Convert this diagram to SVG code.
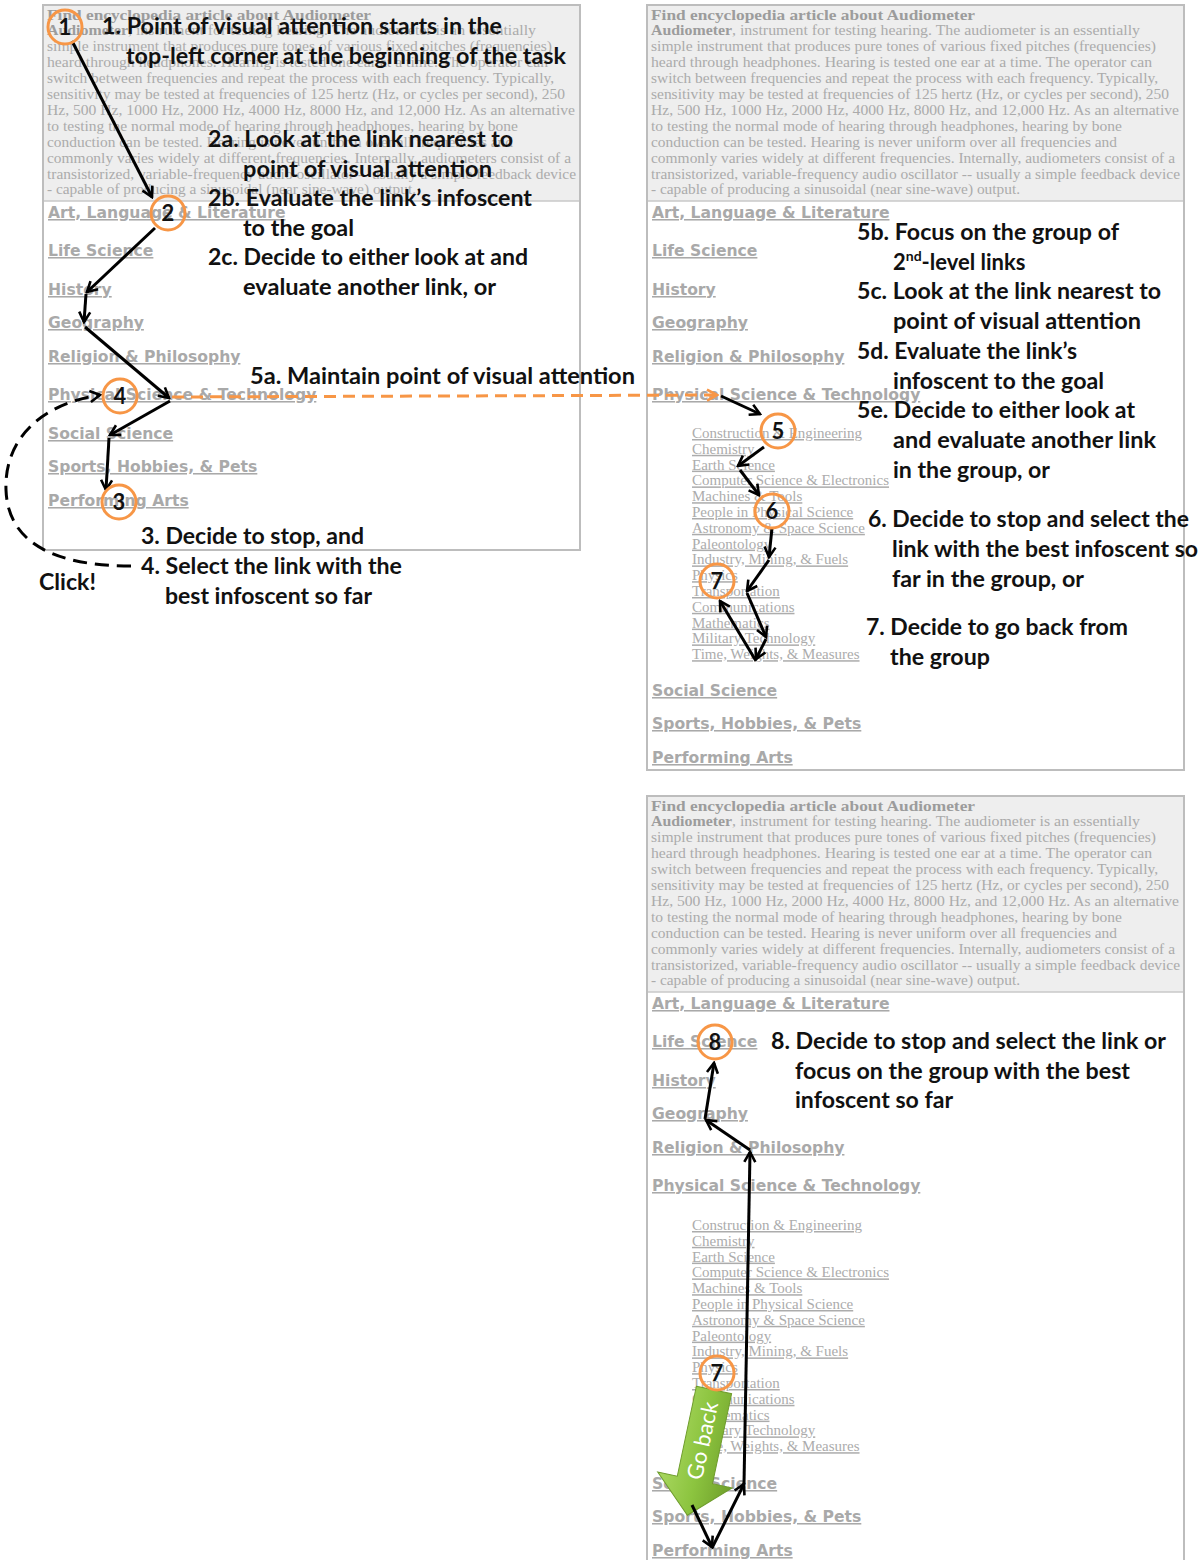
<svg xmlns="http://www.w3.org/2000/svg" width="1204" height="1560" viewBox="0 0 1204 1560">
<defs>
<style>
.panel{fill:#fff;stroke:#bdbdbd;stroke-width:2}
.hdr{fill:#eeeeee}
.sep{stroke:#c8c8c8;stroke-width:1.5}
.body{font-family:"Liberation Serif",serif;font-size:14px;fill:#ababab}
.ttl{font-weight:bold;fill:#9c9c9c}
.lk{font-family:"DejaVu Sans",sans-serif;font-weight:bold;font-size:15.6px;fill:#a9a9a9;text-decoration:underline}
.sl{font-family:"Liberation Serif",serif;font-size:15px;fill:#acacac;text-decoration:underline}
.ann{font-family:Lato,"Liberation Sans",sans-serif;font-weight:bold;font-size:22px;fill:#111}
.num{font-family:Lato,"Liberation Sans",sans-serif;font-weight:bold;font-size:22px;fill:#111;text-anchor:middle}
.circ{fill:none;stroke:#f79646;stroke-width:3}
.arr{fill:none;stroke:#000;stroke-width:3;marker-end:url(#ah)}
.dash{fill:none;stroke:#000;stroke-width:3;stroke-dasharray:14 8;marker-end:url(#ah)}
.odash{fill:none;stroke:#f79646;stroke-width:3;stroke-dasharray:12 7;marker-end:url(#aho)}
</style>
<marker id="ah" viewBox="0 0 14 14" refX="12" refY="7" markerWidth="14" markerHeight="14" markerUnits="userSpaceOnUse" orient="auto">
<path d="M2,1.5 L12,7 L2,12.5" fill="none" stroke="#000" stroke-width="2.6"/>
</marker>
<marker id="aho" viewBox="0 0 14 14" refX="12" refY="7" markerWidth="14" markerHeight="14" markerUnits="userSpaceOnUse" orient="auto">
<path d="M2,1.5 L12,7 L2,12.5" fill="none" stroke="#f79646" stroke-width="2.6"/>
</marker>
<linearGradient id="gb" x1="0" y1="0" x2="1" y2="0">
<stop offset="0" stop-color="#a9d760"/>
<stop offset="0.5" stop-color="#8cc43f"/>
<stop offset="1" stop-color="#6f9f2b"/>
</linearGradient>
</defs>
<rect width="1204" height="1560" fill="#fff"/>

<!-- LEFT PANEL -->
<g id="panel-left">
<rect class="panel" x="43" y="5" width="537" height="545"/>
<rect class="hdr" x="44" y="6" width="535" height="195"/>
<line class="sep" x1="44" y1="201" x2="579" y2="201"/>
<g class="body">
<text x="47" y="19.5" class="ttl" textLength="324" lengthAdjust="spacingAndGlyphs">Find encyclopedia article about Audiometer</text>
<text x="47" y="35.4" textLength="489" lengthAdjust="spacingAndGlyphs"><tspan class="ttl">Audiometer</tspan>, instrument for testing hearing. The audiometer is an essentially</text>
<text x="47" y="51.3" textLength="505" lengthAdjust="spacingAndGlyphs">simple instrument that produces pure tones of various fixed pitches (frequencies)</text>
<text x="47" y="67.2" textLength="501" lengthAdjust="spacingAndGlyphs">heard through headphones. Hearing is tested one ear at a time. The operator can</text>
<text x="47" y="83.1" textLength="507" lengthAdjust="spacingAndGlyphs">switch between frequencies and repeat the process with each frequency. Typically,</text>
<text x="47" y="99" textLength="518" lengthAdjust="spacingAndGlyphs">sensitivity may be tested at frequencies of 125 hertz (Hz, or cycles per second), 250</text>
<text x="47" y="114.9" textLength="528" lengthAdjust="spacingAndGlyphs">Hz, 500 Hz, 1000 Hz, 2000 Hz, 4000 Hz, 8000 Hz, and 12,000 Hz. As an alternative</text>
<text x="47" y="130.8" textLength="471" lengthAdjust="spacingAndGlyphs">to testing the normal mode of hearing through headphones, hearing by bone</text>
<text x="47" y="146.7" textLength="466" lengthAdjust="spacingAndGlyphs">conduction can be tested. Hearing is never uniform over all frequencies and</text>
<text x="47" y="162.6" textLength="524" lengthAdjust="spacingAndGlyphs">commonly varies widely at different frequencies. Internally, audiometers consist of a</text>
<text x="47" y="178.5" textLength="529" lengthAdjust="spacingAndGlyphs">transistorized, variable-frequency audio oscillator -- usually a simple feedback device</text>
<text x="47" y="194.4" textLength="369" lengthAdjust="spacingAndGlyphs">- capable of producing a sinusoidal (near sine-wave) output.</text>
</g>
<g class="lk">
<text x="48" y="218">Art, Language &amp; Literature</text>
<text x="48" y="256">Life Science</text>
<text x="48" y="295">History</text>
<text x="48" y="328">Geography</text>
<text x="48" y="362">Religion &amp; Philosophy</text>
<text x="48" y="400">Physical Science &amp; Technology</text>
<text x="48" y="439">Social Science</text>
<text x="48" y="472">Sports, Hobbies, &amp; Pets</text>
<text x="48" y="506">Performing Arts</text>
</g>
</g>

<!-- RIGHT TOP PANEL -->
<g id="panel-right">
<rect class="panel" x="647" y="5" width="537" height="765"/>
<rect class="hdr" x="648" y="6" width="535" height="195"/>
<line class="sep" x1="648" y1="201" x2="1183" y2="201"/>
<g class="body">
<text x="651" y="19.5" class="ttl" textLength="324" lengthAdjust="spacingAndGlyphs">Find encyclopedia article about Audiometer</text>
<text x="651" y="35.4" textLength="489" lengthAdjust="spacingAndGlyphs"><tspan class="ttl">Audiometer</tspan>, instrument for testing hearing. The audiometer is an essentially</text>
<text x="651" y="51.3" textLength="505" lengthAdjust="spacingAndGlyphs">simple instrument that produces pure tones of various fixed pitches (frequencies)</text>
<text x="651" y="67.2" textLength="501" lengthAdjust="spacingAndGlyphs">heard through headphones. Hearing is tested one ear at a time. The operator can</text>
<text x="651" y="83.1" textLength="507" lengthAdjust="spacingAndGlyphs">switch between frequencies and repeat the process with each frequency. Typically,</text>
<text x="651" y="99" textLength="518" lengthAdjust="spacingAndGlyphs">sensitivity may be tested at frequencies of 125 hertz (Hz, or cycles per second), 250</text>
<text x="651" y="114.9" textLength="528" lengthAdjust="spacingAndGlyphs">Hz, 500 Hz, 1000 Hz, 2000 Hz, 4000 Hz, 8000 Hz, and 12,000 Hz. As an alternative</text>
<text x="651" y="130.8" textLength="471" lengthAdjust="spacingAndGlyphs">to testing the normal mode of hearing through headphones, hearing by bone</text>
<text x="651" y="146.7" textLength="466" lengthAdjust="spacingAndGlyphs">conduction can be tested. Hearing is never uniform over all frequencies and</text>
<text x="651" y="162.6" textLength="524" lengthAdjust="spacingAndGlyphs">commonly varies widely at different frequencies. Internally, audiometers consist of a</text>
<text x="651" y="178.5" textLength="529" lengthAdjust="spacingAndGlyphs">transistorized, variable-frequency audio oscillator -- usually a simple feedback device</text>
<text x="651" y="194.4" textLength="369" lengthAdjust="spacingAndGlyphs">- capable of producing a sinusoidal (near sine-wave) output.</text>
</g>
<g class="lk">
<text x="652" y="218">Art, Language &amp; Literature</text>
<text x="652" y="256">Life Science</text>
<text x="652" y="295">History</text>
<text x="652" y="328">Geography</text>
<text x="652" y="362">Religion &amp; Philosophy</text>
<text x="652" y="400">Physical Science &amp; Technology</text>
<text x="652" y="696">Social Science</text>
<text x="652" y="729">Sports, Hobbies, &amp; Pets</text>
<text x="652" y="763">Performing Arts</text>
</g>
<g class="sl">
<text x="692" y="438">Construction &amp; Engineering</text>
<text x="692" y="453.8">Chemistry</text>
<text x="692" y="469.6">Earth Science</text>
<text x="692" y="485.4">Computer Science &amp; Electronics</text>
<text x="692" y="501.2">Machines &amp; Tools</text>
<text x="692" y="517">People in Physical Science</text>
<text x="692" y="532.8">Astronomy &amp; Space Science</text>
<text x="692" y="548.6">Paleontology</text>
<text x="692" y="564.4">Industry, Mining, &amp; Fuels</text>
<text x="692" y="580.2">Physics</text>
<text x="692" y="596">Transportation</text>
<text x="692" y="611.8">Communications</text>
<text x="692" y="627.6">Mathematics</text>
<text x="692" y="643.4">Military Technology</text>
<text x="692" y="659.2">Time, Weights, &amp; Measures</text>
</g>
</g>

<!-- BOTTOM PANEL -->
<g id="panel-bottom">
<rect class="panel" x="647" y="796" width="537" height="770"/>
<rect class="hdr" x="648" y="797" width="535" height="195"/>
<line class="sep" x1="648" y1="992" x2="1183" y2="992"/>
<g class="body">
<text x="651" y="810.5" class="ttl" textLength="324" lengthAdjust="spacingAndGlyphs">Find encyclopedia article about Audiometer</text>
<text x="651" y="826.4" textLength="489" lengthAdjust="spacingAndGlyphs"><tspan class="ttl">Audiometer</tspan>, instrument for testing hearing. The audiometer is an essentially</text>
<text x="651" y="842.3" textLength="505" lengthAdjust="spacingAndGlyphs">simple instrument that produces pure tones of various fixed pitches (frequencies)</text>
<text x="651" y="858.2" textLength="501" lengthAdjust="spacingAndGlyphs">heard through headphones. Hearing is tested one ear at a time. The operator can</text>
<text x="651" y="874.1" textLength="507" lengthAdjust="spacingAndGlyphs">switch between frequencies and repeat the process with each frequency. Typically,</text>
<text x="651" y="890" textLength="518" lengthAdjust="spacingAndGlyphs">sensitivity may be tested at frequencies of 125 hertz (Hz, or cycles per second), 250</text>
<text x="651" y="905.9" textLength="528" lengthAdjust="spacingAndGlyphs">Hz, 500 Hz, 1000 Hz, 2000 Hz, 4000 Hz, 8000 Hz, and 12,000 Hz. As an alternative</text>
<text x="651" y="921.8" textLength="471" lengthAdjust="spacingAndGlyphs">to testing the normal mode of hearing through headphones, hearing by bone</text>
<text x="651" y="937.7" textLength="466" lengthAdjust="spacingAndGlyphs">conduction can be tested. Hearing is never uniform over all frequencies and</text>
<text x="651" y="953.6" textLength="524" lengthAdjust="spacingAndGlyphs">commonly varies widely at different frequencies. Internally, audiometers consist of a</text>
<text x="651" y="969.5" textLength="529" lengthAdjust="spacingAndGlyphs">transistorized, variable-frequency audio oscillator -- usually a simple feedback device</text>
<text x="651" y="985.4" textLength="369" lengthAdjust="spacingAndGlyphs">- capable of producing a sinusoidal (near sine-wave) output.</text>
</g>
<g class="lk">
<text x="652" y="1009">Art, Language &amp; Literature</text>
<text x="652" y="1047">Life Science</text>
<text x="652" y="1086">History</text>
<text x="652" y="1119">Geography</text>
<text x="652" y="1153">Religion &amp; Philosophy</text>
<text x="652" y="1191">Physical Science &amp; Technology</text>
<text x="652" y="1489">Social Science</text>
<text x="652" y="1522">Sports, Hobbies, &amp; Pets</text>
<text x="652" y="1556">Performing Arts</text>
</g>
<g class="sl">
<text x="692" y="1230">Construction &amp; Engineering</text>
<text x="692" y="1245.8">Chemistry</text>
<text x="692" y="1261.6">Earth Science</text>
<text x="692" y="1277.4">Computer Science &amp; Electronics</text>
<text x="692" y="1293.2">Machines &amp; Tools</text>
<text x="692" y="1309">People in Physical Science</text>
<text x="692" y="1324.8">Astronomy &amp; Space Science</text>
<text x="692" y="1340.6">Paleontology</text>
<text x="692" y="1356.4">Industry, Mining, &amp; Fuels</text>
<text x="692" y="1372.2">Physics</text>
<text x="692" y="1388">Transportation</text>
<text x="692" y="1403.8">Communications</text>
<text x="692" y="1419.6">Mathematics</text>
<text x="692" y="1435.4">Military Technology</text>
<text x="692" y="1451.2">Time, Weights, &amp; Measures</text>
</g>
</g>

<!-- GO BACK block arrow -->
<g id="go-back" transform="translate(714,1390) rotate(12)">
<polygon points="-18,0 18,0 18,92 38,92 0,128 -38,92 -18,92" fill="url(#gb)" stroke="#6e9c2c" stroke-width="1"/>
<text transform="translate(0,52) rotate(-90)" y="7" text-anchor="middle" font-family="Lato,'Liberation Sans',sans-serif" font-size="22" fill="#fff">Go back</text>
</g>

<!-- CONNECTORS -->
<g id="connectors">
<path class="odash" d="M172,397 L717,395"/>
<path class="arr" d="M72,41 L152,197"/>
<path class="arr" d="M155,228 L87,292"/>
<path class="arr" d="M86,294 L84,322"/>
<path class="arr" d="M85,327 L169,398"/>
<path class="arr" d="M170,401 L110,435"/>
<path class="arr" d="M109,438 L106,490"/>
<path class="dash" d="M131,566 C60,566 8,546 6,490 C4,440 40,404 100,395"/>
<path class="arr" d="M721,396 L760,414"/>
<path class="arr" d="M764,447 L738,466"/>
<path class="arr" d="M740,470 L759,495"/>
<path class="arr" d="M772,528 L769,557"/>
<path class="arr" d="M769,560 L747,591"/>
<path class="arr" d="M747,593 L766,637"/>
<path class="arr" d="M766,639 L756,659"/>
<path class="arr" d="M756,661 L720,601"/>
<path class="arr" d="M692,1505 L712,1547"/>
<path class="arr" d="M712,1548 L744,1484"/>
<path class="arr" d="M744,1484 L750,1152"/>
<path class="arr" d="M750,1150 L706,1120"/>
<path class="arr" d="M705,1119 L714,1063"/>
</g>

<!-- NUMBERED ATTENTION POINTS -->
<g id="p1"><circle class="circ" cx="65" cy="27" r="17"/><text class="num" x="65" y="35">1</text></g>
<g id="p2"><circle class="circ" cx="168" cy="213" r="17"/><text class="num" x="168" y="221">2</text></g>
<g id="p4"><circle class="circ" cx="120" cy="396" r="17"/><text class="num" x="120" y="404">4</text></g>
<g id="p3"><circle class="circ" cx="119" cy="502" r="17"/><text class="num" x="119" y="510">3</text></g>
<g id="p5"><circle class="circ" cx="778" cy="431" r="17"/><text class="num" x="778" y="439">5</text></g>
<g id="p6"><circle class="circ" cx="772" cy="511" r="17"/><text class="num" x="772" y="519">6</text></g>
<g id="p7"><circle class="circ" cx="717" cy="581" r="17"/><text class="num" x="717" y="589">7</text></g>
<g id="p8"><circle class="circ" cx="715" cy="1042" r="17"/><text class="num" x="715" y="1050">8</text></g>
<g id="p7b"><circle class="circ" cx="717" cy="1373" r="17"/><text class="num" x="717" y="1381">7</text></g>

<!-- ANNOTATIONS -->
<g id="notes-left" class="ann">
<text x="102" y="34" textLength="400" lengthAdjust="spacingAndGlyphs">1. Point of visual attention starts in the</text>
<text x="126" y="64" textLength="440" lengthAdjust="spacingAndGlyphs">top-left corner at the beginning of the task</text>
<text x="208" y="147" textLength="305" lengthAdjust="spacingAndGlyphs">2a. Look at the link nearest to</text>
<text x="243" y="177" textLength="249" lengthAdjust="spacingAndGlyphs">point of visual attention</text>
<text x="208" y="206" textLength="324" lengthAdjust="spacingAndGlyphs">2b. Evaluate the link’s infoscent</text>
<text x="243" y="236" textLength="111" lengthAdjust="spacingAndGlyphs">to the goal</text>
<text x="208" y="265" textLength="320" lengthAdjust="spacingAndGlyphs">2c. Decide to either look at and</text>
<text x="243" y="295" textLength="253" lengthAdjust="spacingAndGlyphs">evaluate another link, or</text>
<text x="250" y="384" textLength="385" lengthAdjust="spacingAndGlyphs">5a. Maintain point of visual attention</text>
<text x="141" y="544" textLength="223" lengthAdjust="spacingAndGlyphs">3. Decide to stop, and</text>
<text x="141" y="574" textLength="261" lengthAdjust="spacingAndGlyphs">4. Select the link with the</text>
<text x="165" y="604" textLength="207" lengthAdjust="spacingAndGlyphs">best infoscent so far</text>
<text x="39" y="590" textLength="57" lengthAdjust="spacingAndGlyphs">Click!</text>
</g>
<g id="notes-right" class="ann">
<text x="857" y="240" textLength="262" lengthAdjust="spacingAndGlyphs">5b. Focus on the group of</text>
<text x="893" y="270">2<tspan font-size="14" dy="-9">nd</tspan><tspan dy="9">-level links</tspan></text>
<text x="857" y="299" textLength="304" lengthAdjust="spacingAndGlyphs">5c. Look at the link nearest to</text>
<text x="893" y="329" textLength="248" lengthAdjust="spacingAndGlyphs">point of visual attention</text>
<text x="857" y="359" textLength="220" lengthAdjust="spacingAndGlyphs">5d. Evaluate the link’s</text>
<text x="893" y="389" textLength="211" lengthAdjust="spacingAndGlyphs">infoscent to the goal</text>
<text x="857" y="418" textLength="278" lengthAdjust="spacingAndGlyphs">5e. Decide to either look at</text>
<text x="893" y="448" textLength="263" lengthAdjust="spacingAndGlyphs">and evaluate another link</text>
<text x="893" y="478" textLength="157" lengthAdjust="spacingAndGlyphs">in the group, or</text>
<text x="868" y="527" textLength="321" lengthAdjust="spacingAndGlyphs">6. Decide to stop and select the</text>
<text x="892" y="557" textLength="306" lengthAdjust="spacingAndGlyphs">link with the best infoscent so</text>
<text x="892" y="587" textLength="192" lengthAdjust="spacingAndGlyphs">far in the group, or</text>
<text x="866" y="635" textLength="262" lengthAdjust="spacingAndGlyphs">7. Decide to go back from</text>
<text x="890" y="665" textLength="100" lengthAdjust="spacingAndGlyphs">the group</text>
</g>
<g id="notes-bottom" class="ann">
<text x="771" y="1049" textLength="395" lengthAdjust="spacingAndGlyphs">8. Decide to stop and select the link or</text>
<text x="795" y="1079" textLength="335" lengthAdjust="spacingAndGlyphs">focus on the group with the best</text>
<text x="795" y="1108" textLength="158" lengthAdjust="spacingAndGlyphs">infoscent so far</text>
</g>
</svg>
